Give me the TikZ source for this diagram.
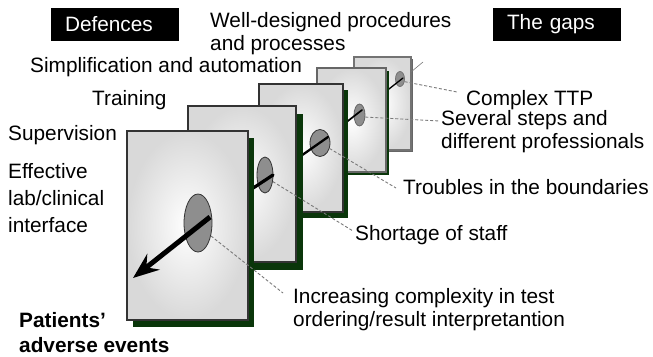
\documentclass[tikz,border=0pt]{standalone}
\usepackage{fontspec}
\setmainfont{Liberation Sans}
\usetikzlibrary{shapes.geometric,shadows,arrows.meta}

\definecolor{shadowgreen}{HTML}{0A360A}
\definecolor{holegray}{HTML}{8E8E8E}
\definecolor{leadergray}{HTML}{7A7A7A}

\tikzset{
  slice/.style={rectangle, inner sep=0pt, draw=#1, line width=1.3pt,
    shade, inner color=white, outer color=black!15},
  slice/.default=black!80,
  sliceshadow/.style n args={3}{drop shadow={shadow xshift=#1pt, shadow yshift=-#2pt,
    fill=#3, opacity=1}},
  hole/.style={ellipse, inner sep=0pt, fill=holegray, draw=#1, line width=0.8pt},
  hole/.default=black!80,
  lab/.style={inner sep=0pt, anchor=base west, align=left,
    font=\fontsize{20.8}{23}\selectfont},
  blackbox/.style={fill=black, text=white, inner xsep=14pt, inner ysep=0pt,
    text width=100pt, minimum height=33pt, align=left,
    font=\fontsize{20.8}{23}\selectfont},
  leader/.style={draw=leadergray, dashed, dash pattern=on 3pt off 2pt, line width=0.9pt},
  beam/.style={draw=black, line cap=round},
}

\begin{document}
\begin{tikzpicture}[x=1pt, y=-1pt]
\useasboundingbox (0,0) rectangle (653,356);

% trajectory points of the hazard through the slices
\coordinate (in) at (423,62);
\coordinate (e5) at (411,72);
\coordinate (a5) at (403,78);  \coordinate (b5) at (380,96);
\coordinate (a4) at (362,110); \coordinate (b4) at (335,131);
\coordinate (a3) at (328,137); \coordinate (b3) at (288,165);
\coordinate (a2) at (273,175); \coordinate (b2) at (238,198);
\coordinate (a1) at (210,217); \coordinate (tip) at (133,278);

% slices, drawn from back to front
\node[slice=black!55, sliceshadow={2}{2}{black!60}, minimum width=57pt, minimum height=93pt] (s5) at (382.5,103.5) {};
\node[hole=black!55, minimum width=9pt, minimum height=15pt] (h5) at (400,79) {};
\draw[leadergray, line width=0.6pt] (e5) -- (in);
\draw[beam, line width=1.3pt] (a5) -- (b5);

\node[slice=black!60, sliceshadow={3}{3}{shadowgreen}, minimum width=69pt, minimum height=104pt] (s4) at (351.5,120) {};
\node[hole=black!60, minimum width=11pt, minimum height=22pt] (h4) at (359.5,115) {};
\draw[beam, line width=1.7pt] (a4) -- (b4);

\node[slice, sliceshadow={5}{6}{shadowgreen}, minimum width=84pt, minimum height=128pt] (s3) at (301,148) {};
\node[hole, minimum width=20pt, minimum height=27pt] (h3) at (320,143) {};
\draw[beam, line width=2.3pt] (a3) -- (b3);

\node[slice, sliceshadow={7}{8}{shadowgreen}, minimum width=108pt, minimum height=156pt] (s2) at (242,184) {};
\node[hole, minimum width=16pt, minimum height=36pt] (h2) at (265,175) {};
\draw[beam, line width=3.2pt] (a2) -- (b2);

\node[slice, sliceshadow={6}{7}{shadowgreen}, minimum width=121pt, minimum height=189pt] (s1) at (187.5,225.5) {};
\node[hole, minimum width=28pt, minimum height=58pt] (h1) at (198,223) {};
\draw[beam, line width=5pt, line cap=butt, -{Stealth[length=26pt, width=20pt, inset=9pt]}] (a1) -- (tip);

% headings
\node[blackbox] (def) at (115,24.5) {Defences};
\node[blackbox] (gap) at (557,24.5) {The gaps};

% defences (a multi-line label is placed by the baseline of its last line)
\node[lab] (wdp) at (210,50) {Well-designed procedures\\and processes};
\node[lab] (sim) at (30,72) {Simplification and automation};
\node[lab] (trn) at (92,105) {Training};
\node[lab] (sup) at (8,140) {Supervision};
\node[lab, font=\fontsize{20.8}{27}\selectfont] (eff) at (8,232) {Effective\\lab/clinical\\interface};
\node[lab, font=\fontsize{20.8}{25}\selectfont\bfseries] (pat) at (19,352) {Patients’\\adverse events};

% gaps
\node[lab] (ttp) at (466,105) {Complex TTP};
\node[lab] (sev) at (441,148) {Several steps and\\different professionals};
\node[lab] (bnd) at (403,194) {Troubles in the boundaries};
\node[lab] (stf) at (355,240) {Shortage of staff};
\node[lab] (cpx) at (293,326) {Increasing complexity in test\\ordering/result interpretantion};

% leaders from the holes to the gap labels
\draw[leader] (h5.-30) -- ([shift={(-9,-13)}]ttp.base west);
\draw[leader] (h4.-20) -- ([shift={(-1,-27)}]sev.base west);
\draw[leader] (h3.-30) -- ([shift={(-7,-6)}]bnd.base west);
\draw[leader] (h2.-40) -- ([shift={(-2,-9)}]stf.base west);
\draw[leader] (h1.-45) -- ([shift={(-10,-33)}]cpx.base west);
\end{tikzpicture}
\end{document}
